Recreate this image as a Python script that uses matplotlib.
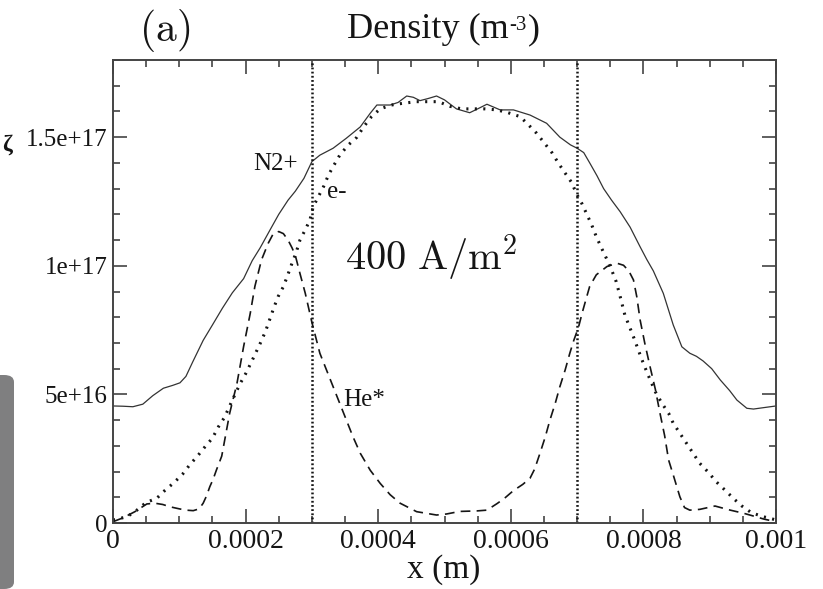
import numpy as np
import matplotlib
matplotlib.use("Agg")
import matplotlib.pyplot as plt
from matplotlib.patches import FancyBboxPatch
from matplotlib.ticker import FixedLocator, MultipleLocator
from matplotlib.transforms import offset_copy

plt.rcParams["font.family"] = ["Liberation Serif", "DejaVu Serif"]
plt.rcParams["mathtext.fontset"] = "stix"
plt.rcParams["lines.scale_dashes"] = False

# Positions in units of 1e-4 m, densities in units of 1e16 m^-3
X_UNIT = 1e-4
N_UNIT = 1e16

x_n2 = [0, 0.15, 0.3, 0.45, 0.6, 0.76, 0.9, 1.01, 1.1, 1.2, 1.36, 1.5, 1.65, 1.8,
        1.97, 2.1, 2.22, 2.37, 2.5, 2.64, 2.75, 2.88, 3.0, 3.12, 3.32, 3.52, 3.73,
        3.88, 3.98, 4.18, 4.3, 4.43, 4.53, 4.63, 4.75, 4.88, 5.0, 5.18, 5.38, 5.5,
        5.64, 5.84, 6.04, 6.29, 6.54, 6.74, 6.9, 7.0, 7.1, 7.19, 7.3, 7.4, 7.52,
        7.65, 7.8, 7.95, 8.05, 8.15, 8.3, 8.45, 8.58, 8.7, 8.8, 8.9, 9.03, 9.16,
        9.3, 9.41, 9.56, 9.66, 9.8, 10.0]
n_n2 = [4.55, 4.54, 4.52, 4.62, 4.95, 5.24, 5.35, 5.45, 5.7, 6.25, 7.1, 7.7, 8.35,
        8.95, 9.5, 10.2, 10.7, 11.4, 12.0, 12.55, 12.9, 13.4, 14.05, 14.3, 14.57,
        14.96, 15.4, 15.93, 16.25, 16.25, 16.35, 16.6, 16.55, 16.42, 16.5, 16.6,
        16.45, 16.1, 15.95, 16.1, 16.28, 16.06, 16.06, 15.86, 15.54, 15.0, 14.7,
        14.57, 14.4, 14.0, 13.5, 13.0, 12.55, 12.1, 11.5, 10.74, 10.25, 9.8,
        8.93, 7.7, 6.85, 6.6, 6.48, 6.3, 6.0, 5.56, 5.15, 4.78, 4.46, 4.43, 4.48,
        4.55]

x_e = [0, 0.21, 0.36, 0.5, 0.66, 0.78, 0.92, 1.05, 1.16, 1.28, 1.39, 1.5, 1.59,
       1.68, 1.76, 1.84, 1.92, 2.0, 2.09, 2.15, 2.22, 2.3, 2.37, 2.43, 2.49, 2.57,
       2.63, 2.70, 2.76, 2.82, 2.9, 2.97, 3.02, 3.1, 3.18, 3.25, 3.33, 3.42, 3.55,
       3.68, 3.78, 3.90, 4.03, 4.20, 4.38, 4.58, 4.73, 4.91, 5.08, 5.26, 5.43,
       5.61, 5.79, 5.96, 6.14, 6.27, 6.39, 6.51, 6.62, 6.72, 6.82, 6.92, 6.99,
       7.07, 7.14, 7.22, 7.29, 7.37, 7.44, 7.52, 7.59, 7.65, 7.72, 7.85, 7.97,
       8.05, 8.18, 8.28, 8.38, 8.45, 8.55, 8.65, 8.75, 8.85, 8.98, 9.1, 9.23,
       9.36, 9.48, 9.63, 9.8, 10.0]
n_e = [0.12, 0.24, 0.5, 0.8, 0.96, 1.26, 1.57, 1.9, 2.27, 2.62, 2.97, 3.3, 3.74,
       4.1, 4.55, 5.0, 5.43, 5.8, 6.27, 6.6, 6.98, 7.45, 7.96, 8.4, 8.8, 9.19,
       9.6, 10.1, 10.5, 11.0, 11.4, 11.78, 12.3, 12.7, 13.1, 13.53, 13.9, 14.3,
       14.7, 15.0, 15.4, 15.8, 16.1, 16.25, 16.32, 16.38, 16.38, 16.38, 16.2,
       16.1, 16.1, 16.1, 16.06, 15.95, 15.8, 15.47, 15.15, 14.76, 14.4, 13.98,
       13.6, 13.23, 12.8, 12.43, 12.04, 11.59, 11.13, 10.68, 10.3, 9.84, 9.38,
       8.8, 8.09, 7.24, 6.4, 5.88, 5.1, 4.65, 4.27, 3.88, 3.49, 3.1, 2.71, 2.32,
       1.97, 1.6, 1.28, 0.95, 0.67, 0.4, 0.25, 0.12]

x_he = [0, 0.15, 0.33, 0.51, 0.63, 0.75, 0.86, 1.0, 1.1, 1.21, 1.3, 1.36, 1.41,
        1.46, 1.51, 1.56, 1.64, 1.76, 1.87, 1.97, 2.07, 2.14, 2.24, 2.34, 2.42,
        2.5, 2.57, 2.64, 2.70, 2.75, 2.82, 2.90, 3.0, 3.12, 3.22, 3.32, 3.42,
        3.52, 3.62, 3.73, 3.88, 4.03, 4.18, 4.33, 4.58, 4.88, 5.03, 5.23, 5.49,
        5.64, 5.79, 5.9, 6.04, 6.18, 6.29, 6.36, 6.44, 6.52, 6.59, 6.67, 6.74,
        6.82, 6.89, 6.95, 7.02, 7.08, 7.14, 7.19, 7.29, 7.45, 7.6, 7.7, 7.78,
        7.85, 7.9, 7.95, 8.02, 8.10, 8.18, 8.25, 8.32, 8.38, 8.45, 8.55, 8.62,
        8.70, 8.85, 9.08, 9.31, 9.51, 9.66, 9.82, 10.0]
n_he = [0.05, 0.2, 0.44, 0.74, 0.77, 0.72, 0.63, 0.55, 0.5, 0.48, 0.55, 0.77, 1.05,
        1.41, 1.7, 2.06, 2.6, 4.27, 5.43, 6.86, 8.15, 9.2, 10.23, 10.87, 11.26,
        11.33, 11.25, 11.0, 10.7, 10.4, 9.7, 8.93, 7.8, 6.6, 5.95, 5.3, 4.65,
        4.0, 3.35, 2.71, 2.05, 1.54, 1.1, 0.77, 0.44, 0.31, 0.35, 0.45, 0.47,
        0.5, 0.75, 0.95, 1.26, 1.5, 1.74, 2.1, 2.71, 3.35, 4.0, 4.65, 5.3, 5.95,
        6.6, 7.1, 7.6, 8.2, 8.75, 9.2, 9.65, 9.97, 10.1, 10.02, 9.8, 9.45, 8.8,
        7.9, 7.0, 6.08, 5.2, 4.27, 3.4, 2.45, 1.87, 1.02, 0.6, 0.5, 0.53, 0.66,
        0.5, 0.38, 0.27, 0.15, 0.05]

# Boundaries of the central region
boundaries = [0.0003, 0.0007]

x_ticks = [0, 0.0002, 0.0004, 0.0006, 0.0008, 0.001]
x_tick_labels = ["0", "0.0002", "0.0004", "0.0006", "0.0008", "0.001"]
y_ticks = [0, 5e16, 1e17, 1.5e17]
y_tick_labels = ["0", "5e+16", "1e+17", "1.5e+17"]

ink = "#151515"
frame = "#444444"

W, H = 823, 589
fig = plt.figure(figsize=(W / 100, H / 100), dpi=100)
ax = fig.add_axes([113 / W, (H - 523) / H, 663 / W, 463 / H])

ax.plot(np.array(x_n2) * X_UNIT, np.array(n_n2) * N_UNIT, color="#333333", lw=0.9)
ax.plot(np.array(x_e) * X_UNIT, np.array(n_e) * N_UNIT, color=ink, lw=2.2,
        linestyle=(0, (1.5, 4.6)), dash_capstyle="butt")
ax.plot(np.array(x_he) * X_UNIT, np.array(n_he) * N_UNIT, color=ink, lw=1.2,
        linestyle=(0, (7, 4.5)))
for xb in boundaries:
    ax.axvline(xb, color=ink, lw=1.8, linestyle=(0, (1.3, 1.7)))

ax.set_xlim(0, 0.001)
ax.set_ylim(0, 1.8e17)
ax.xaxis.set_major_locator(FixedLocator(x_ticks))
ax.set_xticklabels(x_tick_labels)
ax.xaxis.set_minor_locator(MultipleLocator(0.00005))
ax.yaxis.set_major_locator(FixedLocator(y_ticks))
ax.set_yticklabels(y_tick_labels)
ax.yaxis.set_minor_locator(MultipleLocator(1e16))

ax.tick_params(which="both", direction="in", top=True, right=True,
               color=frame, width=1.2)
ax.tick_params(which="major", length=10)
ax.tick_params(which="minor", length=5)
ax.tick_params(axis="x", labelsize=20, pad=4, labelcolor=ink)
ax.tick_params(axis="y", labelsize=18, pad=4, labelcolor=ink)
for sp in ax.spines.values():
    sp.set_color(frame)
    sp.set_linewidth(1.4)

# Curve labels
ax.text(2.79e-4, 1.396e17, "N2+", ha="right", va="center", fontsize=18, color=ink)
ax.text(3.23e-4, 1.287e17, "e-", ha="left", va="center", fontsize=18, color=ink)
ax.text(3.47e-4, 4.78e16, "He*", ha="left", va="center", fontsize=18, color=ink)
ax.text(3.5e-4, 9.84e16, r"$400\ \mathrm{A/m^2}$", ha="left", va="baseline",
        fontsize=29, color=ink, math_fontfamily="cm")

# Header and axis label
fig.text(165 / W, 1 - 30 / H, r"$\mathrm{(a)}$", ha="center", va="center",
         fontsize=30, color=ink, math_fontfamily="cm")
head = fig.text(347 / W, 1 - 38 / H, "Density (m", ha="left", va="baseline",
                fontsize=26, color=ink)
fig.canvas.draw()
renderer = fig.canvas.get_renderer()
ext = head.get_window_extent(renderer)
sup = fig.text(ext.x1 / W + 1 / W, 1 - 30 / H, "-3", ha="left", va="baseline",
               fontsize=15, color=ink)
ext2 = sup.get_window_extent(renderer)
fig.text(ext2.x1 / W + 1 / W, 1 - 38 / H, ")", ha="left", va="baseline",
         fontsize=26, color=ink)
fig.text(444 / W, 1 - 570 / H, "x (m)", ha="center", va="center",
         fontsize=24, color=ink)

# Side tab and margin glyph
fig.patches.append(FancyBboxPatch((-10 / W, 0), 24 / W, (H - 375) / H,
                                  boxstyle="round,pad=0,rounding_size=0.012",
                                  transform=fig.transFigure, facecolor="#7f7f80",
                                  edgecolor="none"))
fig.text(7 / W, 1 - 145 / H, "ζ", ha="center", va="center", fontsize=17,
         fontweight="bold", color=ink)

fig.savefig("out.png", dpi=100)
